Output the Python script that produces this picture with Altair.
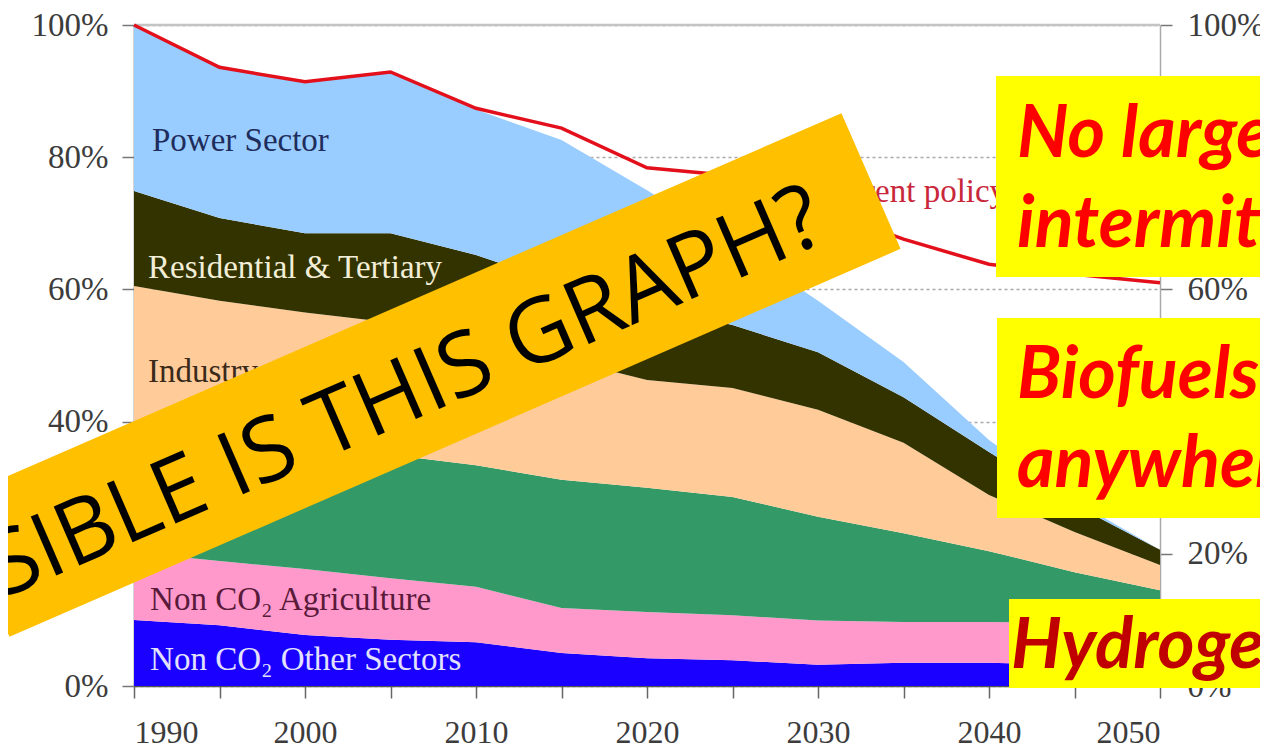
import altair as alt
import pandas as pd

# ---------------- data (share of 1990 emissions, %) ----------------
years = [1990, 1995, 2000, 2005, 2010, 2015, 2020, 2025, 2030, 2035, 2040, 2045, 2050]

sectors = ["Non CO2 Other Sectors", "Non CO2 Agriculture", "Transport",
           "Industry", "Residential & Tertiary", "Power Sector"]
sector_colors = ["#1a00ff", "#ff99cc", "#339966", "#ffcc99", "#333300", "#99ccff"]

non_co2_other = [10.0, 9.2, 7.7, 7.0, 6.6, 5.0, 4.2, 3.9, 3.2, 3.5, 3.5, 3.2, 3.0]
non_co2_agri = [10.2, 9.7, 10.0, 9.3, 8.4, 6.8, 7.0, 6.8, 6.7, 6.2, 6.2, 6.3, 6.3]
transport = [14.8, 16.3, 17.8, 18.7, 18.4, 19.4, 18.8, 17.9, 15.7, 13.4, 10.7, 7.7, 5.2]
industry = [25.5, 23.1, 21.0, 20.0, 19.1, 18.3, 16.3, 16.5, 16.2, 13.7, 8.5, 6.1, 3.8]
residential = [14.4, 12.5, 12.0, 13.5, 12.7, 11.3, 11.2, 9.5, 8.7, 6.9, 6.5, 4.1, 2.3]
power = [25.1, 22.8, 22.9, 24.4, 22.0, 21.8, 17.5, 12.4, 7.8, 5.3, 1.8, 0.6, 0.0]

current_policy = [100.0, 93.6, 91.4, 92.9, 87.4, 84.4, 78.4, 77.2, 72.3, 67.6, 63.8, 62.3, 61.0]

series = [non_co2_other, non_co2_agri, transport, industry, residential, power]

y_ticks = [0, 20, 40, 60, 80, 100]
x_ticks = [1990, 1995, 2000, 2005, 2010, 2015, 2020, 2025, 2030, 2035, 2040, 2045, 2050]

# in-chart labels: text, year, pct, colour
label_texts = ["Power Sector", "Residential & Tertiary", "Industry",
               "Non CO\u2082 Agriculture", "Non CO\u2082 Other Sectors", "Current policy"]
label_years = [1991.05, 1990.82, 1990.82, 1990.94, 1990.94, 2029.8]
label_pcts = [80.9, 61.7, 46.0, 11.5, 2.4, 73.2]
label_colors = ["#1f2d5c", "#f2eed8", "#3a2a1a", "#5a1a3a", "#e2e2ff", "#c8283a"]

# ---------------- tables ----------------
rows = []
for rank, (name, vals) in enumerate(zip(sectors, series)):
    for yr, v in zip(years, vals):
        rows.append({"year": yr, "sector": name, "rank": rank, "value": v})
df = pd.DataFrame(rows)
df_policy = pd.DataFrame({"year": years, "policy": current_policy})
df_labels = pd.DataFrame({"text": label_texts, "year": label_years,
                          "pct": label_pcts, "col": label_colors})
one = pd.DataFrame({"a": [0]})

W, H = 1026, 661
SERIF = "Liberation Serif"
SANS = "Open Sans"
BOXFONT = "Lato"

xscale = alt.Scale(domain=[1990, 2050], nice=False, zero=False)
yscale = alt.Scale(domain=[0, 100], nice=False, zero=True)

x_axis = alt.Axis(values=x_ticks, labelExpr="datum.value % 10 == 0 ? datum.label : ''",
                  format="d", title=None, grid=False, tickSize=12, tickColor="#666",
                  tickWidth=1.5, domainColor="#555", domainWidth=1.5,
                  labelFont=SERIF, labelFontSize=32, labelColor="#3c3c3c", labelPadding=19)
left_axis = alt.Axis(values=y_ticks, labelExpr="datum.value + '%'", title=None,
                     orient="left", grid=True, gridDash=[3, 3], gridColor="#aaaaaa",
                     gridWidth=1.5, tickSize=12, tickColor="#777", tickWidth=1.5,
                     domainColor="#555", domainWidth=1.5, labelFont=SERIF,
                     labelFontSize=33, labelColor="#3c3c3c", labelPadding=14)
right_axis = alt.Axis(values=y_ticks, labelExpr="datum.value + '%'", title=None,
                      orient="right", grid=False, tickSize=12, tickColor="#777",
                      tickWidth=1.5, domainColor="#aaaaaa", domainWidth=1.5,
                      labelFont=SERIF, labelFontSize=33, labelColor="#3c3c3c",
                      labelPadding=15)

top_line = alt.Chart(one).mark_rule(color="#c4c4c4", strokeWidth=2.5).encode(
    x=alt.value(0), x2=alt.value(W), y=alt.value(0))

areas = alt.Chart(df).mark_area(interpolate="linear").encode(
    x=alt.X("year:Q", scale=xscale, axis=x_axis),
    y=alt.Y("value:Q", stack="zero", scale=yscale, axis=left_axis),
    color=alt.Color("sector:N", scale=alt.Scale(domain=sectors, range=sector_colors),
                    legend=None),
    order=alt.Order("rank:Q", sort="ascending"),
)

policy = alt.Chart(df_policy).mark_line(color="#e3101b", strokeWidth=3.5).encode(
    x=alt.X("year:Q", scale=xscale),
    y=alt.Y("policy:Q", scale=yscale, axis=right_axis),
)

labels = alt.Chart(df_labels).mark_text(
    align="left", baseline="alphabetic", font=SERIF, fontSize=33).encode(
    x=alt.X("year:Q", scale=xscale),
    y=alt.Y("pct:Q", scale=yscale, axis=None),
    text="text:N",
    color=alt.Color("col:N", scale=None),
)

# ---------------- overlays ----------------
banner = alt.Chart(one).mark_rule(color="#ffc000", strokeWidth=148, strokeCap="butt").encode(
    x=alt.value(-154), y=alt.value(544), x2=alt.value(737), y2=alt.value(156))
banner_text = alt.Chart(one).mark_text(
    angle=336.5, align="right", baseline="alphabetic", font=SANS, fontSize=90,
    color="#000000").encode(
    x=alt.value(696), y=alt.value(214), text=alt.value("HOW FEASIBLE IS THIS GRAPH?"))

def box(x1, y1, x2, y2):
    return alt.Chart(one).mark_rect(color="#ffff00").encode(
        x=alt.value(x1), x2=alt.value(x2), y=alt.value(y1), y2=alt.value(y2))

def btext(txt, x, y, col, size=72):
    return alt.Chart(one).mark_text(
        align="left", baseline="alphabetic", font=BOXFONT, fontSize=size,
        fontWeight="bold", fontStyle="italic", color=col).encode(
        x=alt.value(x), y=alt.value(y), text=alt.value(txt))

box1 = box(862, 51, 1140, 252)
box2 = box(863, 293, 1140, 493)
box3 = box(875, 574, 1140, 663)
t1 = btext("No large", 883, 132, "#ff0000")
t2 = btext("intermittent", 883, 222, "#ff0000")
t3 = btext("Biofuels", 883, 373, "#ff0000")
t4 = btext("anywhere", 883, 462, "#ff0000")
t5 = btext("Hydrogen", 877, 643, "#c00000", 71)

chart = alt.layer(
    top_line, areas, policy, labels, banner, banner_text,
    box1, box2, box3, t1, t2, t3, t4, t5,
).resolve_scale(y="independent").properties(
    width=W, height=H,
    autosize=alt.AutoSizeParams(type="none"),
    padding={"left": 126, "top": 17, "right": 100, "bottom": 60},
    background="#ffffff",
).configure_view(stroke=None)

chart.save("out.html", embed_options={"renderer": "svg", "actions": False})
